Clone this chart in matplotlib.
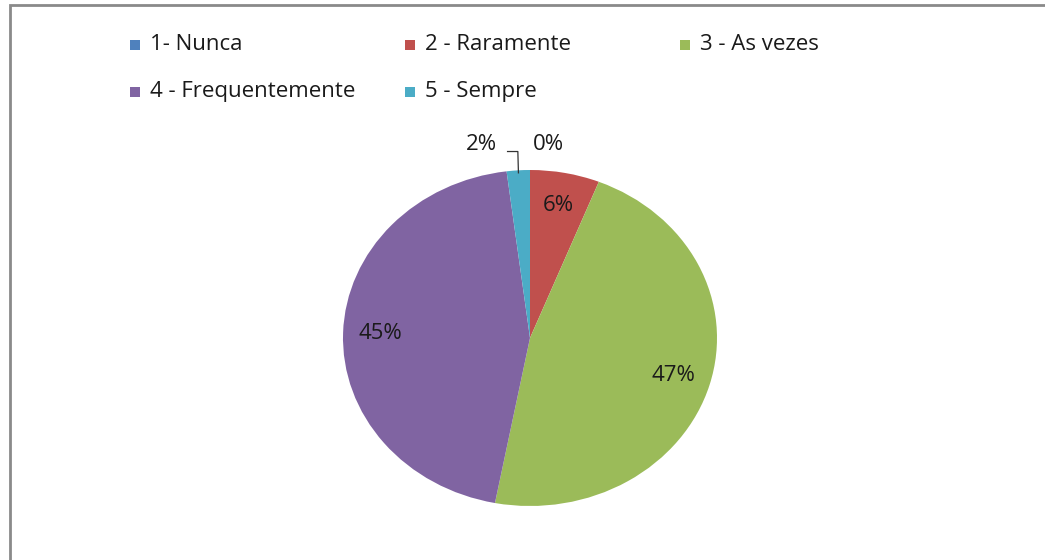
import numpy as np
import matplotlib
matplotlib.use("Agg")
import matplotlib.pyplot as plt
from matplotlib.patches import Rectangle

categories = ["1- Nunca", "2 - Raramente", "3 - As vezes", "4 - Frequentemente", "5 - Sempre"]
values = [0, 6, 47, 45, 2]
colors = ["#4F81BD", "#C0504D", "#9BBB59", "#8064A2", "#4BACC6"]

W, H = 1045, 560
FS = 16
plt.rcParams["font.family"] = ["Open Sans", "DejaVu Sans"]
fig = plt.figure(figsize=(W / 100, H / 100), dpi=100)

# pie area (Excel stretches it slightly wider than tall)
cx, cy, rx, ry = 530, 338, 187, 168
ax = fig.add_axes([(cx - rx) / W, (H - cy - ry) / H, 2 * rx / W, 2 * ry / H])
wedges, texts, autotexts = ax.pie(values, colors=colors, startangle=90, counterclock=False,
                                  autopct="%1.0f%%", pctdistance=0.8,
                                  wedgeprops=dict(linewidth=0),
                                  textprops=dict(fontsize=FS, color="#1a1a1a"))
ax.set_aspect("auto")
ax.set_xlim(-1, 1)
ax.set_ylim(-1, 1)

# small slices: labels above the pie
for w, t in zip(wedges, autotexts):
    t.set_clip_on(False)
    pct = (w.theta2 - w.theta1) / 360 * 100
    if pct < 3:
        mid = np.deg2rad((w.theta1 + w.theta2) / 2)
        if pct == 0:
            t.set_position((0.10, 1.15))
        else:
            t.set_position((-0.26, 1.15))
            px, py = np.cos(mid), np.sin(mid)
            ax.plot([-0.12, -0.065, px * 0.985], [1.11, 1.11, py * 0.985],
                    color="#333333", lw=0.9, clip_on=False)

# legend laid out on a uniform grid like Excel does
cols_x = [130, 405, 680]
rows_y = [45, 92]
for i, k in enumerate(range(len(categories))):
    x = cols_x[i % 3]
    y = rows_y[i // 3]
    fig.add_artist(Rectangle((x / W, (H - y - 5) / H), 10 / W, 10 / H,
                             transform=fig.transFigure, color=colors[k], lw=0))
    fig.text((x + 20) / W, (H - y) / H, categories[k], fontsize=FS,
             va="center", ha="left", color="#1a1a1a")

# chart frame
fig.add_artist(Rectangle((10 / W, -0.05), 1.1, (H - 5) / H + 0.05,
                         transform=fig.transFigure, fill=False,
                         edgecolor="#8a8a8a", lw=2))

fig.savefig("out.png", dpi=100)
